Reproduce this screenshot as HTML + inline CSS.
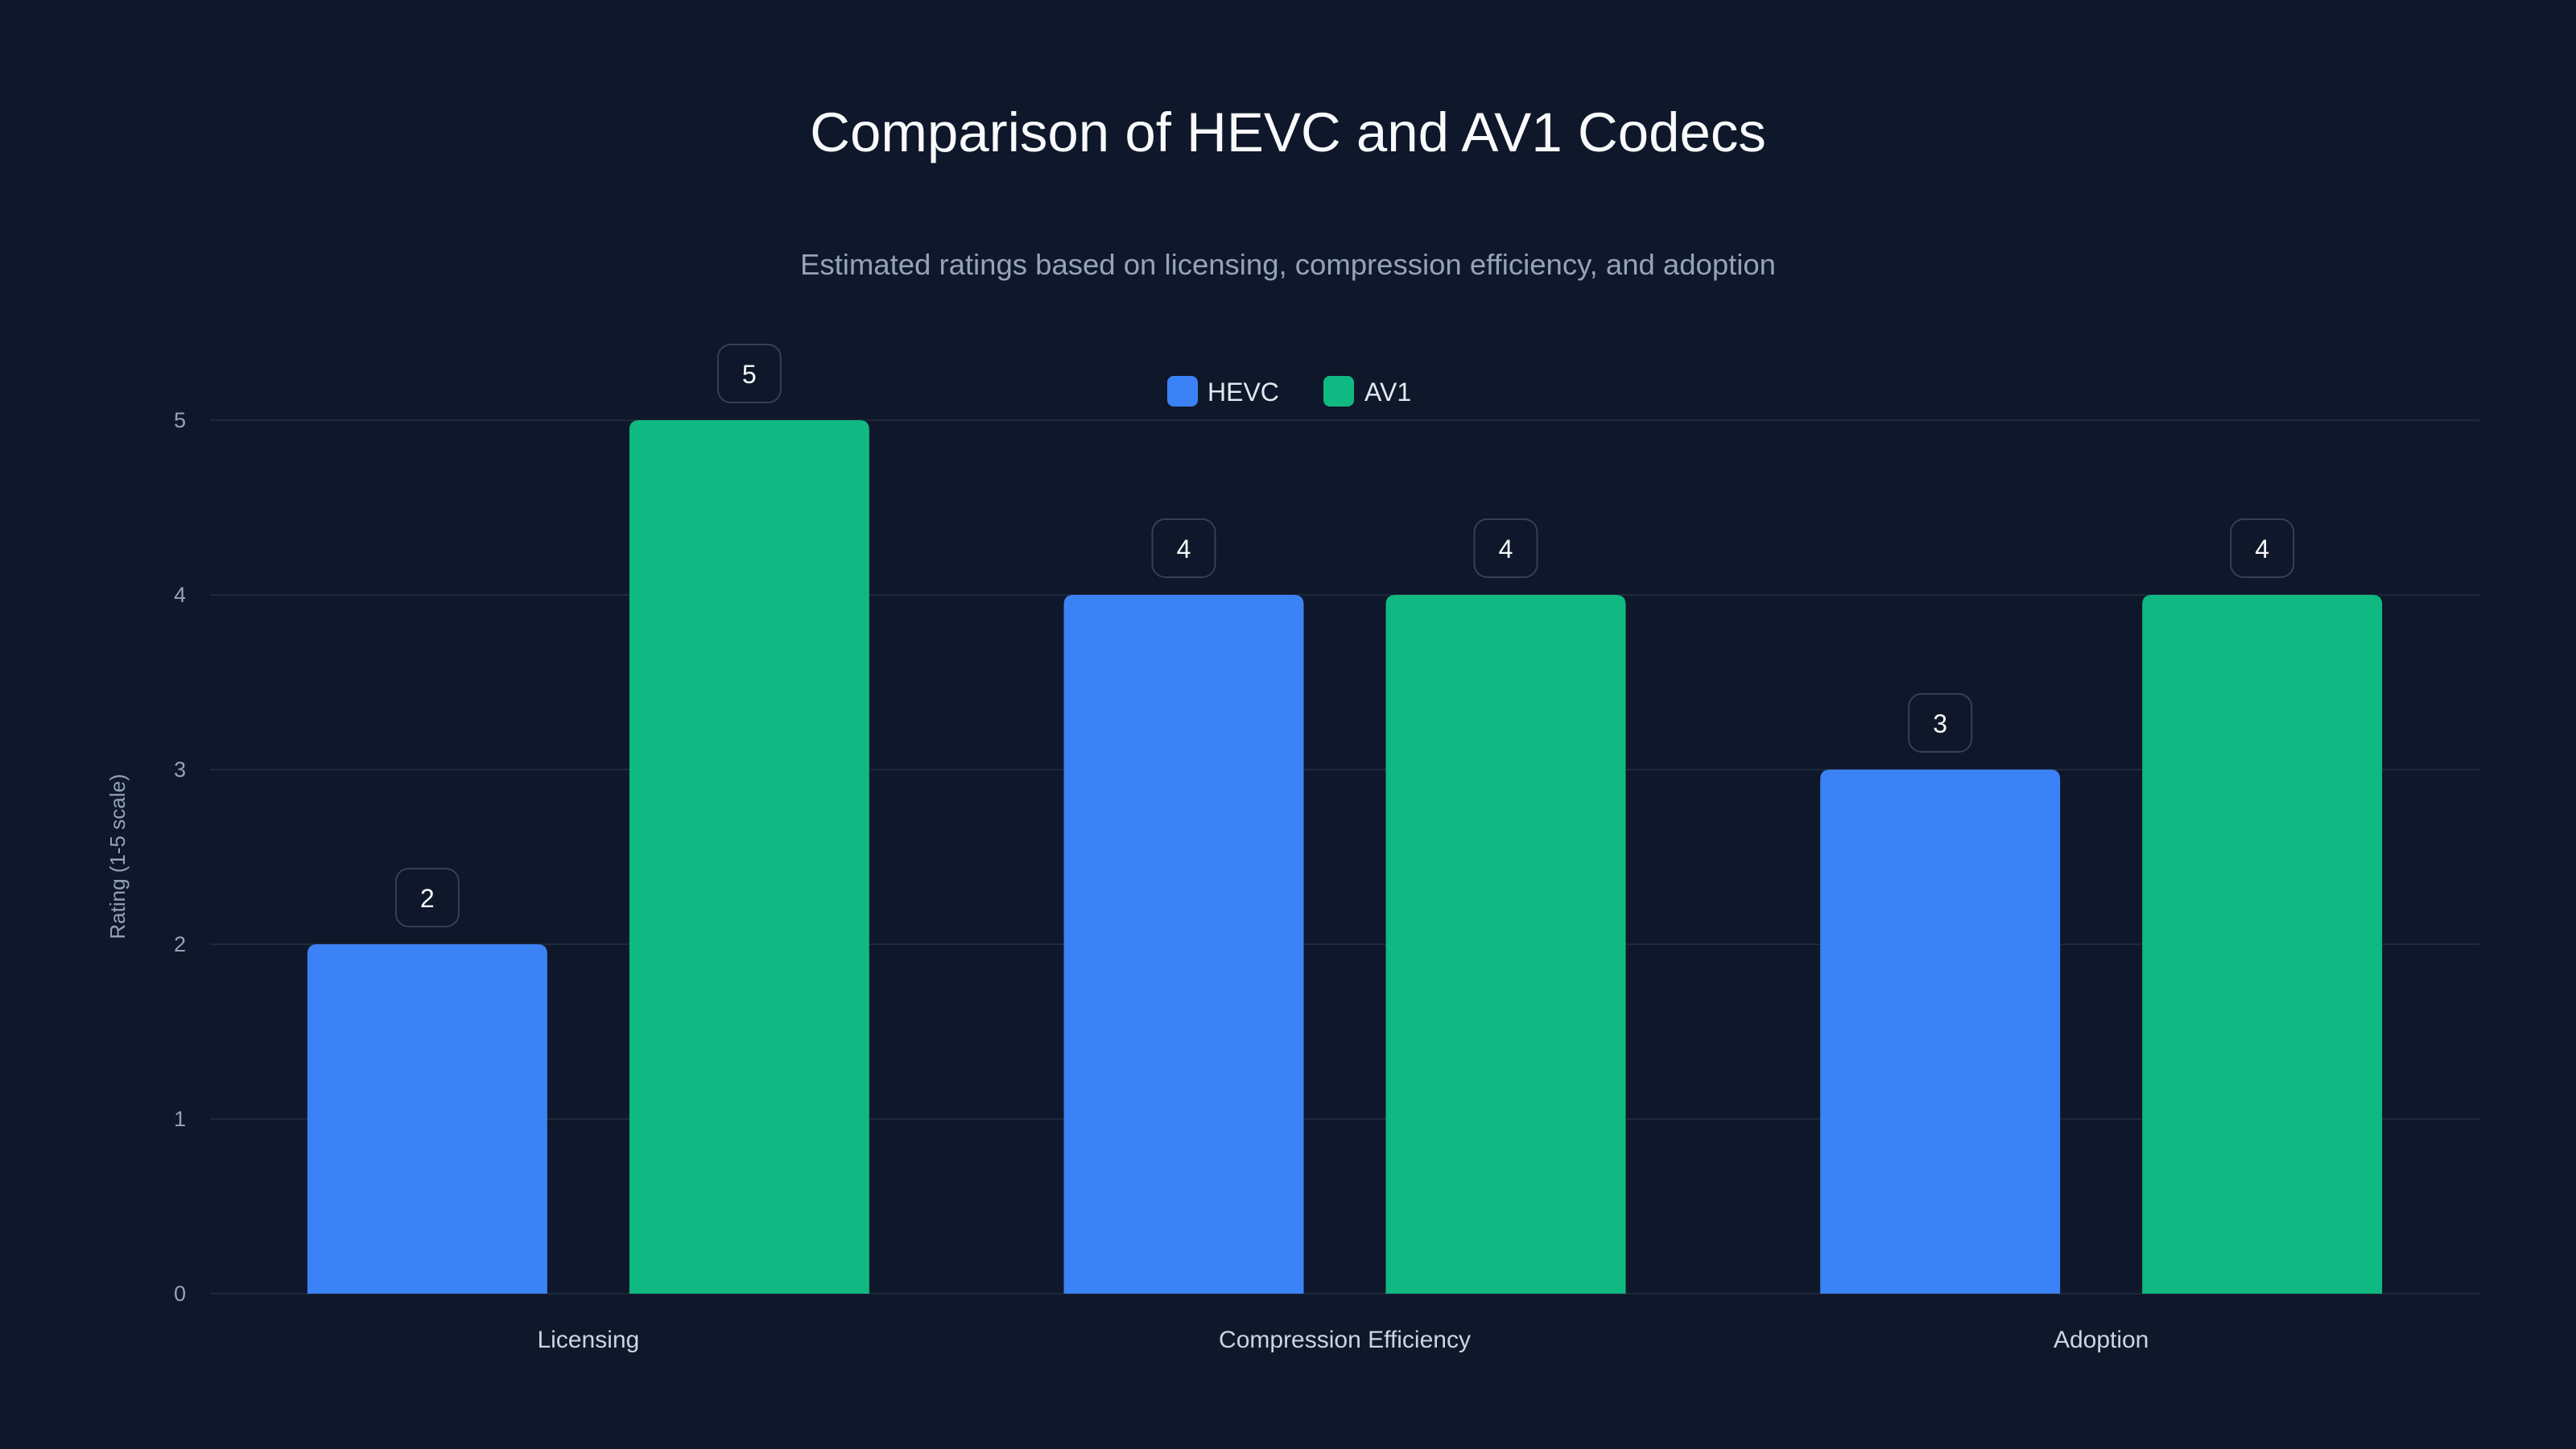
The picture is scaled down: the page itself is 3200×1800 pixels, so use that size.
<!DOCTYPE html>
<html><head><meta charset="utf-8"><style>
html,body{margin:0;padding:0;background:#0f172a;}
svg{display:block;font-family:"Liberation Sans",sans-serif;}
</style></head><body>
<svg id="chart" width="3200" height="1800" viewBox="0 0 3200 1800" xmlns="http://www.w3.org/2000/svg">
<rect x="0" y="0" width="3200" height="1800" fill="#0f172a"/>
<text x="1600" y="188" text-anchor="middle" font-size="69" fill="#f8fafc">Comparison of HEVC and AV1 Codecs</text>
<text x="1600" y="341" text-anchor="middle" font-size="36.5" fill="#94a3b8">Estimated ratings based on licensing, compression efficiency, and adoption</text>
<g>
<g><rect x="1450" y="467" width="38" height="38" rx="8" fill="#3b82f6"/><text x="1500" y="498" font-size="32" fill="#e2e8f0">HEVC</text></g>
<g><rect x="1644" y="467" width="38" height="38" rx="8" fill="#10b981"/><text x="1695" y="498" font-size="32" fill="#e2e8f0">AV1</text></g>
</g>
<g id="grid"></g><g id="bars"></g><g id="labels"></g>
<text transform="translate(155,1064) rotate(-90)" text-anchor="middle" font-size="26" fill="#94a3b8">Rating (1-5 scale)</text>
</svg>
<script>
const categories = ["Licensing", "Compression Efficiency", "Adoption"];
const hevcValues = [2, 4, 3];
const av1Values = [5, 4, 4];
const yTicks = [0, 1, 2, 3, 4, 5];
const NS = "http://www.w3.org/2000/svg";
const plotL = 261, plotR = 3080, plotT = 522, plotB = 1607, yMax = 5;
const yS = v => plotB - (plotB - plotT) * v / yMax;
const groupW = (plotR - plotL) / categories.length;
const xC = i => plotL + groupW * (i + 0.5);
const barW = 298, off = 200;
function mk(tag, attrs, parent){const e=document.createElementNS(NS,tag);for(const k in attrs)e.setAttribute(k,attrs[k]);parent.appendChild(e);return e;}
const grid=document.getElementById('grid'),bars=document.getElementById('bars'),labels=document.getElementById('labels');
yTicks.forEach(t=>{
  const l=mk('line',{x1:plotL,x2:plotR,y1:yS(t),y2:yS(t),stroke:'#1e293b','stroke-width':2},grid);
  
  
  const tx=mk('text',{x:231,y:yS(t)+9,'text-anchor':'end','font-size':27,fill:'#94a3b8'},grid);
  tx.textContent=t;
  
  
});
function barPath(x,y,w,h,r){return `M${x},${y+h}V${y+r}Q${x},${y} ${x+r},${y}H${x+w-r}Q${x+w},${y} ${x+w},${y+r}V${y+h}Z`;}
function drawBar(cx,v,color,name){
  const y=yS(v),h=plotB-y;
  const p=mk('path',{d:barPath(cx-barW/2,y,barW,h,12),fill:color},bars);
  
  
  const b=mk('rect',{x:cx-39,y:y-94,width:78,height:72,rx:16,fill:'#0f172a',stroke:'#334155','stroke-width':2},labels);
  
  
  const t=mk('text',{x:cx,y:y-46,'text-anchor':'middle','font-size':32,fill:'#f8fafc'},labels);
  t.textContent=v;
  
  
}
categories.forEach((c,i)=>{
  drawBar(xC(i)-off,hevcValues[i],'#3b82f6','bar-hevc');
  drawBar(xC(i)+off,av1Values[i],'#10b981','bar-av1');
  const t=mk('text',{x:xC(i),y:1674,'text-anchor':'middle','font-size':30,fill:'#cbd5e1'},labels);
  t.textContent=c;
  
  
});
</script>
</body></html>
